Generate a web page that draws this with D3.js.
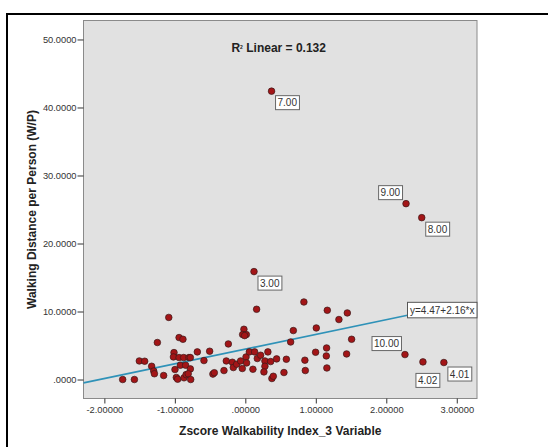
<!DOCTYPE html>
<html>
<head>
<meta charset="utf-8">
<script src="https://cdn.jsdelivr.net/npm/d3@7"></script>
<style>
  html, body { margin: 0; padding: 0; background: #fff; }
  svg { display: block; font-family: Arial, 'Liberation Sans', sans-serif; }
</style>
</head>
<body>
<svg id="chart" width="548" height="447"></svg>
<script>
// Zscore walkability (x) vs walking distance per person (y)
const zscores = [
  -1.74, -1.574, -1.504, -1.428, -1.329, -1.30, -1.29, -1.248, -1.159, -1.086,
  -1.012, -1.02, -0.998, -0.979, -0.96, -0.94, -0.885, -0.94, -0.875, -0.80,
  -0.78, -0.922, -0.847, -0.78, -0.87, -0.84, -0.81, -0.775, -0.681, -0.587,
  -0.506, -0.46, -0.44, -0.303, -0.241, -0.27, -0.184, -0.17, -0.123, -0.067,
  -0.043, -0.02, -0.038, 0.014, -0.01, 0.01, 0.018, 0.057, 0.132, 0.108,
  0.16, 0.17, 0.217, 0.278, 0.278, 0.264, 0.32, 0.359, 0.377, 0.397,
  0.444, 0.548, 0.582, 0.643, 0.681, 0.831, 1.163, 1.447, 1.328, 1.007,
  1.508, 0.997, 1.153, 1.149, 1.437, 1.157, 0.845, 0.851,
  0.372, 2.28, 2.503, 0.123, 2.265, 2.52, 2.817
];
const walkDist = [
  0.00, 0.00, 2.73, 2.69, 1.95, 1.25, 0.85, 5.44, 0.59, 9.13,
  3.96, 3.32, 1.47, 0.30, 0.05, 6.17, 5.92, 3.23, 3.23, 3.23,
  3.23, 2.10, 2.10, 1.56, 0.25, 0.72, 0.85, 0.00, 4.06, 2.79,
  4.16, 0.80, 1.00, 1.32, 5.23, 2.73, 2.54, 1.76, 2.25, 2.73,
  1.62, 7.39, 6.61, 6.61, 6.46, 3.32, 2.44, 4.06, 4.06, 1.51,
  10.33, 3.09, 3.57, 2.73, 1.95, 1.12, 4.06, 2.64, 0.15, 0.48,
  3.03, 1.03, 2.98, 5.52, 7.20, 11.40, 10.18, 9.79, 8.82, 7.58,
  5.92, 4.01, 4.64, 3.47, 3.76, 1.70, 2.84, 1.32,
  42.4, 25.86, 23.8, 15.87, 3.67, 2.59, 2.5
];
// case labels shown next to outliers
const caseLabels = ['7.00', '9.00', '8.00', '3.00', '10.00', '4.02', '4.01'];
const labelIndex = [78, 79, 80, 81, 82, 83, 84];
const labelSide = ['br', 'tl', 'br', 'br', 'tl', 'b', 'br'];

const yTicks = [0, 10, 20, 30, 40, 50];
const xTicks = [-2, -1, 0, 1, 2, 3];
const fitA = 4.47, fitB = 2.16;
const rSquared = 0.132;

const data = zscores.map((x, i) => ({ x, y: walkDist[i] }));

const svg = d3.select('#chart');
const plot = { left: 83.5, top: 20.5, right: 477, bottom: 398.5 };

const x = d3.scaleLinear().domain([-2.296, 3.287]).range([plot.left, plot.right]);
const y = d3.scaleLinear().domain([-2.79, 52.79]).range([plot.bottom, plot.top]);

// outer frame (runs off the right and bottom edge)
svg.append('rect')
  .attr('x', 7).attr('y', 14).attr('width', 560).attr('height', 460)
  .attr('fill', 'none').attr('stroke', '#000').attr('stroke-width', 2);

svg.append('rect')
  .attr('x', plot.left).attr('y', plot.top)
  .attr('width', plot.right - plot.left).attr('height', plot.bottom - plot.top)
  .attr('fill', '#e1e1e1').attr('stroke', '#8a8a8a').attr('stroke-width', 1);

// axes
const fmtY = (d) => (d === 0 ? '.0000' : d3.format('.4f')(d));
const fmtX = (d) => (d === 0 ? '.00000' : d3.format('.5f')(d).replace('−', '-'));

const gy = svg.append('g')
  .attr('transform', `translate(${plot.left},0)`)
  .call(d3.axisLeft(y).tickValues(yTicks).tickFormat(fmtY).tickSize(6).tickPadding(1));
const gx = svg.append('g')
  .attr('transform', `translate(0,${plot.bottom})`)
  .call(d3.axisBottom(x).tickValues(xTicks).tickFormat(fmtX).tickSize(5).tickPadding(3));

[gy, gx].forEach((g) => {
  g.select('.domain').remove();
  g.selectAll('line').attr('stroke', '#333');
  g.selectAll('text').attr('fill', '#333').style('font-size', '9.3px')
    .style('font-family', "Arial, 'Liberation Sans', sans-serif");
});

// equation label size first, the fit line stops at its box
const eqG = svg.append('g');
const eqT = eqG.append('text').text(`y=${fitA}+${fitB}*x`)
  .attr('font-size', 10).attr('fill', '#333');
const eqW = eqT.node().getBBox().width + 5;
const eqX = plot.right - eqW;
const eqY = y(fitA + fitB * x.invert(eqX)) - 13;

const fitLine = d3.line().x((d) => x(d)).y((d) => y(fitA + fitB * d));
svg.insert('path', 'g')
  .datum([x.domain()[0], x.invert(eqX)])
  .attr('d', fitLine)
  .attr('fill', 'none').attr('stroke', '#2f92b8').attr('stroke-width', 1.6);

// points
svg.append('g').selectAll('circle')
  .data(data)
  .join('circle')
  .attr('cx', (d) => x(d.x))
  .attr('cy', (d) => y(d.y))
  .attr('r', 3.3)
  .attr('fill', '#a31517')
  .attr('stroke', '#3a1a1a')
  .attr('stroke-width', 0.7);

eqG.raise();
eqG.insert('rect', 'text')
  .attr('x', eqX).attr('y', eqY).attr('width', eqW).attr('height', 15.5)
  .attr('fill', '#fff').attr('stroke', '#555').attr('stroke-width', 1);
eqT.attr('x', eqX + 2.5).attr('y', eqY + 11.5);

// boxed text helper
function boxedText(g, txt, px, py, side) {
  const t = g.append('text').text(txt)
    .attr('font-size', 10).attr('fill', '#333');
  const bb = t.node().getBBox();
  const w = bb.width + 4, h = 14;
  let bx, by;
  if (side === 'br') { bx = px + 4; by = py + 4.5; }
  else if (side === 'tl') { bx = px - 3.5 - w; by = py - 4 - h; }
  else { bx = px - 7; by = py + 11.5; }
  g.insert('rect', 'text')
    .attr('x', bx).attr('y', by).attr('width', w).attr('height', h)
    .attr('fill', '#fff').attr('stroke', '#666').attr('stroke-width', 1);
  t.attr('x', bx + 2).attr('y', by + 10.8);
}

const labG = svg.append('g');
caseLabels.forEach((lab, i) => {
  const d = data[labelIndex[i]];
  boxedText(labG.append('g'), lab, x(d.x), y(d.y), labelSide[i]);
});

// R squared title
const title = svg.append('text')
  .attr('x', 278.7).attr('y', 52)
  .attr('text-anchor', 'middle')
  .attr('font-size', 12).attr('font-weight', 'bold').attr('fill', '#222');
title.append('tspan').text('R');
title.append('tspan').text('2').attr('font-size', 5).attr('dy', -3);
title.append('tspan').text(` Linear = ${rSquared}`).attr('dy', 3);

// axis titles
svg.append('text')
  .attr('x', (plot.left + plot.right) / 2).attr('y', 435)
  .attr('text-anchor', 'middle')
  .attr('font-size', 12).attr('font-weight', 'bold').attr('fill', '#222')
  .text('Zscore Walkability Index_3 Variable');

svg.append('text')
  .attr('transform', `translate(36,${(plot.top + plot.bottom) / 2}) rotate(-90)`)
  .attr('text-anchor', 'middle')
  .attr('font-size', 12).attr('font-weight', 'bold').attr('fill', '#222')
  .text('Walking Distance per Person (W/P)');
</script>
</body>
</html>
